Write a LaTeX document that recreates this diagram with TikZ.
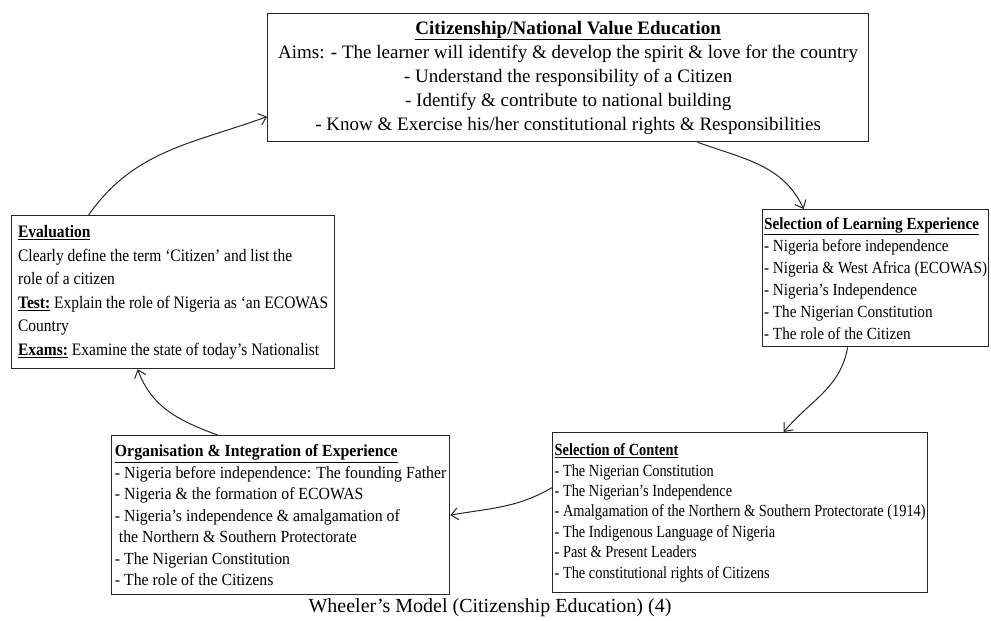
\documentclass[tikz,border=0pt]{standalone}
\usepackage{fontspec}
\setmainfont{Liberation Serif}
\newfontfamily\evalfont[FakeStretch=0.885]{Liberation Serif}
\newfontfamily\orgfont[FakeStretch=0.93]{Liberation Serif}
\newfontfamily\contentfont[FakeStretch=0.845]{Liberation Serif}
\newfontfamily\learnfont[FakeStretch=0.895]{Liberation Serif}
\usetikzlibrary{arrows.meta}

\tikzset{
  stagebox/.style={draw=black!85, line width=1.3pt, anchor=north west, align=left, inner sep=0pt},
  link/.style={-{Straight Barb[length=7pt,width=12pt]}, line width=1pt, color=black!85},
}

\begin{document}
\begin{tikzpicture}[%
      x=1pt, y=-1pt,
      ]
      \useasboundingbox (0,0) rectangle (991,621);

      \node [stagebox, align=center, minimum width=601pt, minimum height=128pt,
             font=\fontsize{19}{24}\selectfont] (aims) at (267,13)
            {\underline{\textbf{Citizenship/National Value Education}}\\
             Aims: - The learner will identify \& develop the spirit \& love for the country\\
             - Understand the responsibility of a Citizen\\
             - Identify \& contribute to national building\\
             - Know \& Exercise his/her constitutional rights \& Responsibilities};

      \node [stagebox, minimum width=226pt, minimum height=137pt,
             font=\learnfont\fontsize{17}{22}\selectfont] (learn) at (762,209)
            {\underline{\textbf{Selection of Learning Experience}}\\
             - Nigeria before independence\\
             - Nigeria \& West Africa (ECOWAS)\\
             - Nigeria’s Independence\\
             - The Nigerian Constitution\\
             - The role of the Citizen};

      \node [stagebox, minimum width=375pt, minimum height=160pt,
             font=\contentfont\fontsize{17}{20.4}\selectfont] (content) at (552,432)
            {\underline{\textbf{Selection of Content}}\\
             - The Nigerian Constitution\\
             - The Nigerian’s Independence\\
             - Amalgamation of the Northern \& Southern Protectorate (1914)\\
             - The Indigenous Language of Nigeria\\
             - Past \& Present Leaders\\
             - The constitutional rights of Citizens};

      \node [stagebox, minimum width=338pt, minimum height=159pt,
             font=\orgfont\fontsize{17}{21.5}\selectfont] (org) at (111,435)
            {\underline{\textbf{Organisation \& Integration of Experience}}\\
             - Nigeria before independence: The founding Father\\
             - Nigeria \& the formation of ECOWAS\\
             - Nigeria’s independence \& amalgamation of\\
             \hspace*{4pt}the Northern \& Southern Protectorate\\
             - The Nigerian Constitution\\
             - The role of the Citizens};

      \node [stagebox, minimum width=323pt, minimum height=153pt,
             font=\evalfont\fontsize{17.5}{23.5}\selectfont] (eval) at (11,215)
            {\underline{\textbf{Evaluation}}\\
             Clearly define the term ‘Citizen’ and list the\\
             role of a citizen\\
             \underline{\textbf{Test:}} Explain the role of Nigeria as ‘an ECOWAS\\
             Country\\
             \underline{\textbf{Exams:}} Examine the state of today’s Nationalist};

      \node [font=\fontsize{20}{22}\selectfont] (caption) at (490,608)
            {Wheeler’s Model (Citizenship Education) (4)};

      \draw [link] ([xshift=129.5pt]aims.south) to [out=-20, in=115] ([xshift=-72pt]learn.north);
      \draw [link] ([xshift=-28pt]learn.south) to [out=-100, in=50] ([xshift=43.5pt]content.north);
      \draw [link] ([yshift=25pt]content.west) to [out=210, in=10] (org.east);
      \draw [link] ([xshift=-63pt]org.north) to [out=160, in=-70] ([xshift=-35.5pt]eval.south);
      \draw [link] ([xshift=-84.5pt]eval.north) to [out=55, in=200] ([yshift=-39pt]aims.west);
\end{tikzpicture}
\end{document}
